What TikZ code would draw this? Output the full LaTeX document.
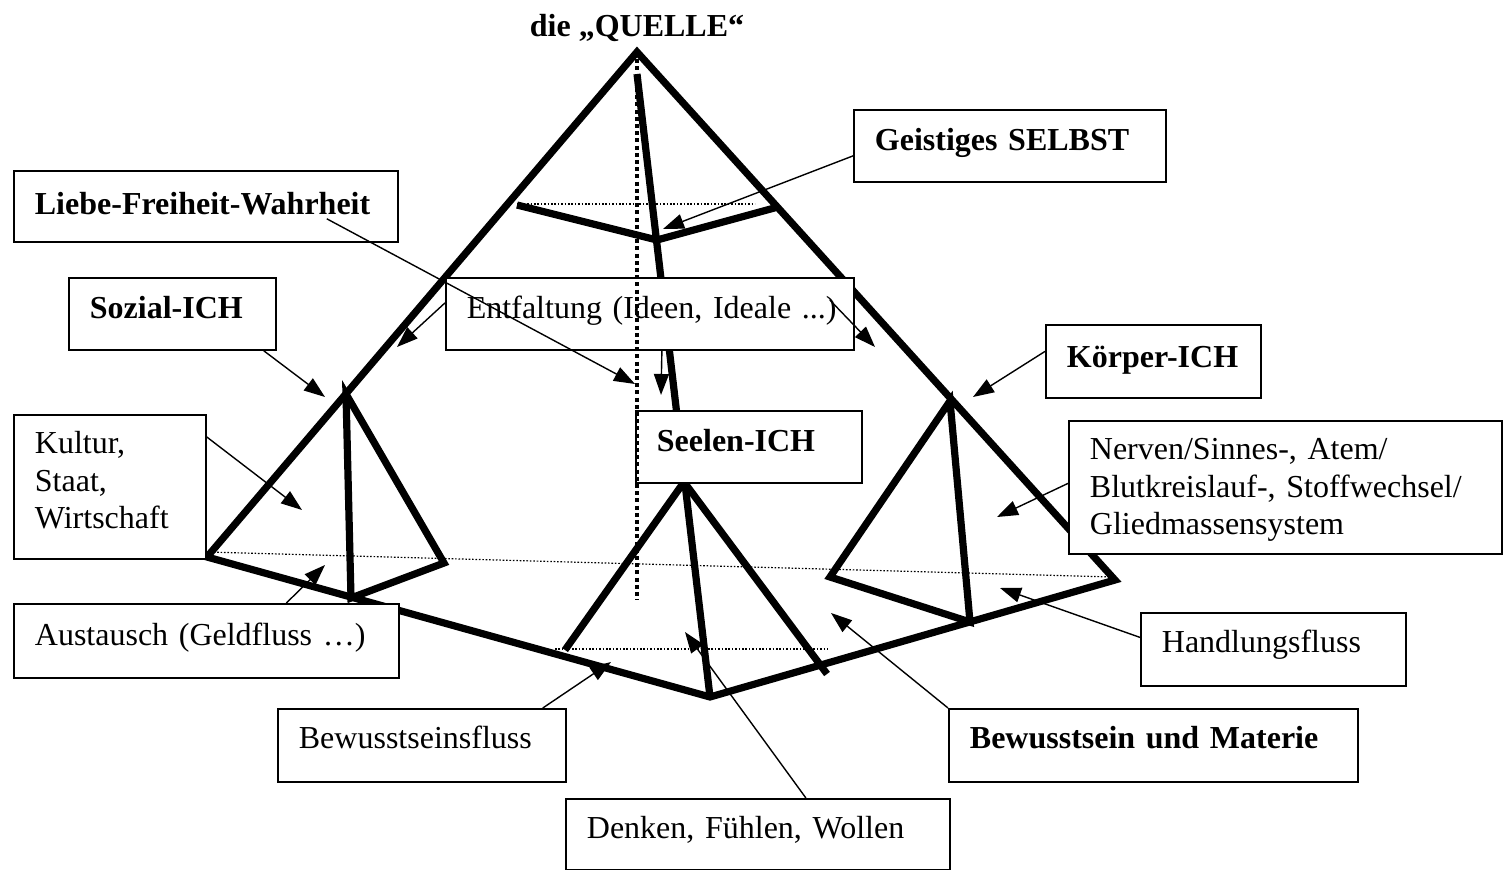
\documentclass[tikz,border=0pt]{standalone}
\usepackage{fontspec}
\setmainfont{Liberation Serif}
\usetikzlibrary{arrows.meta,calc}
\begin{document}
\begin{tikzpicture}[x=0.5pt,y=-0.5pt,
  every node/.style={font=\fontsize{16}{18.6}\selectfont},
  thick edge/.style={line width=3.6pt, line join=miter, line cap=butt},
  hidden/.style={line width=0.6pt, dash pattern=on 0.8pt off 0.9pt},
  axis line/.style={line width=2pt, dash pattern=on 2pt off 1.6pt},
  box/.style={draw, line width=0.9pt, fill=white, anchor=north west, inner xsep=10.5pt, inner ysep=0pt, align=left, text height=20.5pt},
  pointer/.style={line width=0.7pt, -{Triangle[length=10.5pt,width=7.5pt]}},
]
\useasboundingbox (0,0) rectangle (1503,870);
\fill[white] (0,0) rectangle (1503,870);

% main pyramid
\coordinate (A) at (637,52);
\coordinate (A2) at (637,74);
\coordinate (L) at (207,557);
\coordinate (R) at (1115,580);
\coordinate (F) at (710,697);
% top cross-section
\coordinate (G1) at (517,205);
\coordinate (G2) at (657,240);
\coordinate (G3) at (778,207);
% left small pyramid
\coordinate (SA) at (346,394);
\coordinate (SB) at (351,598);
\coordinate (SC) at (444,563);
% right small pyramid
\coordinate (RA) at (950,401);
\coordinate (RB) at (970,622);
\coordinate (RC) at (830,577);
% middle small pyramid
\coordinate (MA) at (684,482);
\coordinate (ML) at (565,650);
\coordinate (MR) at (827,674);

\draw[thick edge] (L) -- (A) -- (R) -- (F) -- cycle;
\draw[thick edge] (A2) -- (F);
\draw[thick edge] (G1) -- (G2) -- (G3);
\draw[thick edge] (SB) -- (SA) -- (SC) -- cycle;
\draw[thick edge] (RB) -- (RA) -- (RC) -- cycle;
\draw[thick edge] (ML) -- (MA) -- (MR);

\coordinate (H1) at (207,552);
\coordinate (H2) at (1112,577);
\coordinate (H3) at (517,204);
\coordinate (H4) at (755,204);
\coordinate (H5) at (555,649);
\coordinate (H6) at (828,649);
\draw[hidden] (H1) -- (H2);
\draw[hidden] (H3) -- (H4);
\draw[hidden] (H5) -- (H6);

% title
\node[anchor=base] (quelle) at (637,37) {\textbf{die „QUELLE“}};

% boxes
\node[box, text width=171pt, text height=22pt, text depth=13.5pt] (liebe) at (13,170) {\mbox{\textbf{Liebe-Freiheit-Wahrheit}}};
\node[box, text width=135pt, text depth=15.5pt] (geist) at (853,109) {\mbox{\textbf{Geistiges SELBST}}};
\node[box, text width=82.5pt, text depth=15.5pt] (sozial) at (68,277) {\mbox{\textbf{Sozial-ICH}}};
\node[box, text width=183pt, text depth=15.5pt] (entf) at (445,277) {\mbox{Entfaltung (Ideen, Ideale ...)}};
\node[box, text width=86.5pt, text height=21.5pt, text depth=15pt] (koerper) at (1045,324) {\mbox{\textbf{Körper-ICH}}};
\node[box, text width=92pt, text depth=15.5pt] (seele) at (635,410) {\mbox{\textbf{Seelen-ICH}}};
\node[box, text width=75pt, text height=19.5pt, text depth=52.5pt] (kultur) at (13,414) {Kultur,\\Staat,\\Wirtschaft};
\node[box, text width=195.5pt, text height=19.5pt, text depth=47pt] (nerven) at (1068,420) {Nerven/Sinnes-, Atem/\\Blutkreislauf-, Stoffwechsel/\\Gliedmassensystem};
\node[box, text width=171.5pt, text height=21pt, text depth=16pt] (aust) at (13,603) {\mbox{Austausch (Geldfluss …)}};
\node[box, text width=111.5pt, text height=20pt, text depth=16.5pt] (handl) at (1140,612) {\mbox{Handlungsfluss}};
\node[box, text width=123pt, text height=20pt, text depth=16.5pt] (bewfl) at (277,708) {\mbox{Bewusstseinsfluss}};
\node[box, text width=183.5pt, text height=20pt, text depth=16.5pt] (bum) at (948,708) {\mbox{\textbf{Bewusstsein und Materie}}};
\node[box, text width=171pt, text height=20pt, text depth=15.5pt] (denken) at (565,798) {\mbox{Denken, Fühlen, Wollen}};

% vertical axis
\draw[axis line] (A) -- (637,600) coordinate (axisend);

% arrow tips
\coordinate (t1) at (663,229);
\coordinate (t2) at (635,384);
\coordinate (t3) at (325,397);
\coordinate (t4) at (397,347);
\coordinate (t5) at (875,347);
\coordinate (t6) at (661,395);
\coordinate (t7) at (973,397);
\coordinate (t8) at (302,510);
\coordinate (t9) at (997,517);
\coordinate (t10) at (325,565);
\coordinate (t11) at (1000,588);
\coordinate (t12) at (611,662);
\coordinate (t13) at (831,613);
\coordinate (t14) at (685,632);

\draw[pointer] ([yshift=-5pt]geist.west) -- (t1);
\draw[pointer] ([xshift=-6.5pt]sozial.south east) -- (t3);
\draw[pointer] ([yshift=5.5pt]entf.west) -- (t4);
\draw[pointer] ([xshift=-12.5pt,yshift=-11.5pt]entf.north east) -- (t5);
\draw[pointer] ([xshift=6pt]entf.south) -- (t6);
\draw[pointer] ([yshift=5pt]koerper.west) -- (t7);
\draw[pointer] ([yshift=-11.5pt]kultur.north east) -- (t8);
\draw[pointer] ([yshift=2pt]nerven.west) -- (t9);
\draw[pointer] ([xshift=40pt]aust.north) -- (t10);
\draw[pointer] ([yshift=6pt]handl.west) -- (t11);
\draw[pointer] ([xshift=-12pt]bewfl.north east) -- (t12);
\draw[pointer] (bum.north west) -- (t13);
\draw[pointer] ([xshift=24pt]denken.north) -- (t14);
\draw[pointer] ([xshift=-36pt,yshift=12pt]liebe.south east) -- (t2);
\end{tikzpicture}
\end{document}
